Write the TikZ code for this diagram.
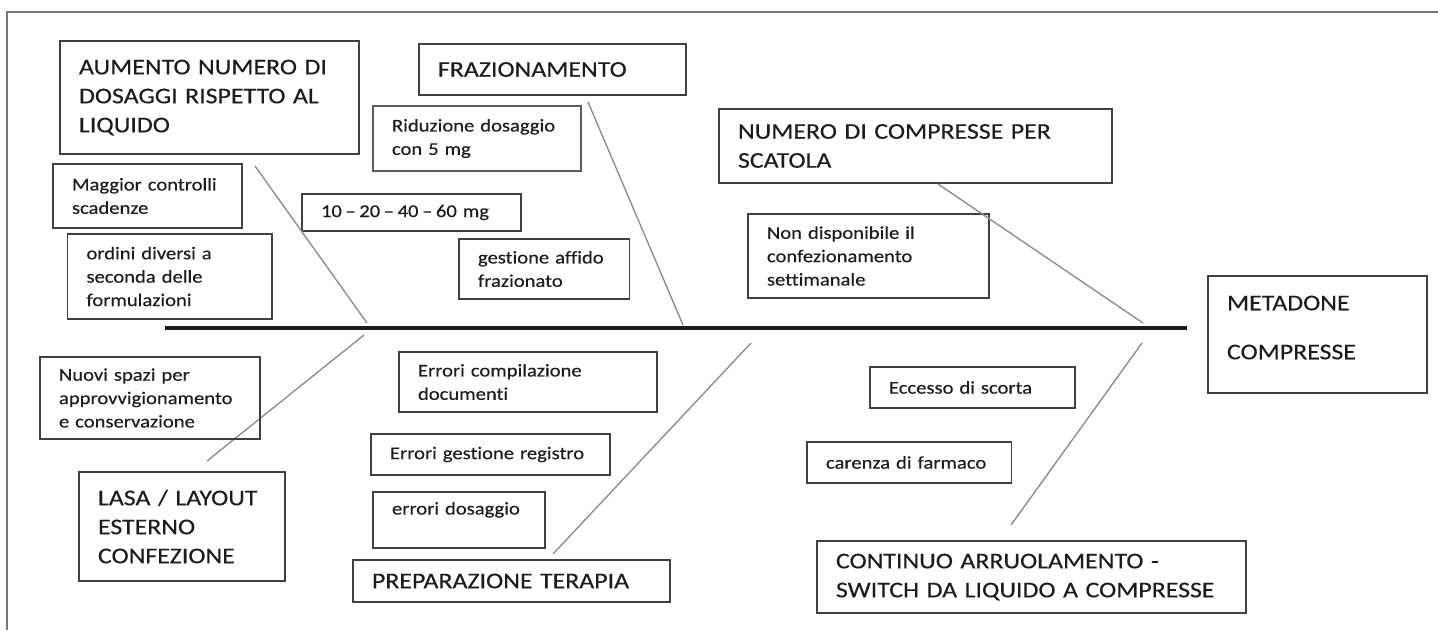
\documentclass[tikz,border=0pt]{standalone}
\usepackage{fontspec}
\setmainfont{Carlito}[FakeStretch=1.15, FakeBold=0.3, Ligatures=NoCommon]

\definecolor{framegray}{HTML}{767676}
\definecolor{boxline}{HTML}{404040}
\definecolor{thickline}{HTML}{5C5C5C}
\definecolor{bonegray}{HTML}{8E8E8E}
\definecolor{inkgray}{HTML}{1C1C1C}

\begin{document}
\begin{tikzpicture}[x=0.02cm, y=-0.02cm,
  cat/.style={draw=boxline, line width=0.7pt, anchor=north west, align=left,
              inner xsep=0.38cm, inner ysep=0pt, outer sep=0pt, text=inkgray,
              font=\fontsize{12.8}{16.5}\selectfont},
  cause/.style={cat, font=\fontsize{10.2}{13.3}\selectfont},
  bone/.style={draw=bonegray, line width=0.8pt},
  spine/.style={draw=inkgray, line width=2.3pt}]

  \useasboundingbox (0,0) rectangle (1438,630);

  % page frame
  \draw[framegray, line width=1.1pt] (1438,12) -- (7,12) -- (7,630);

  % upper categories
  \node[cat, text width=5.22cm, minimum height=2.26cm] (aumento) at (60,41)
        {AUMENTO NUMERO DI\\DOSAGGI RISPETTO AL\\LIQUIDO};
  \node[cat, text width=4.58cm, minimum height=1.02cm] (fraz) at (419,44)
        {FRAZIONAMENTO};
  \node[cat, text width=7.10cm, minimum height=1.48cm] (numero) at (719,109)
        {NUMERO DI COMPRESSE PER\\SCATOLA};

  % upper causes
  \node[cause, draw=thickline, line width=1.6pt, text width=3.40cm, minimum height=1.30cm]
        (riduz) at (373,106) {Riduzione dosaggio\\con 5 mg};
  \node[cause, text width=3.02cm, minimum height=1.28cm] (maggior) at (53,164)
        {Maggior controlli\\scadenze};
  \node[cause, text width=3.62cm, minimum height=0.74cm] (dosi) at (302,194)
        {10\hspace{0.2em}–\hspace{0.2em}20\hspace{0.2em}–\hspace{0.2em}40\hspace{0.2em}–\hspace{0.2em}60 mg};
  \node[cause, text width=3.33cm, minimum height=1.70cm] (ordini) at (67.5,234)
        {ordini diversi a\\seconda delle\\formulazioni};
  \node[cause, text width=2.65cm, minimum height=1.20cm] (affido) at (459,239)
        {gestione affido\\frazionato};
  \node[cause, text width=4.06cm, minimum height=1.68cm] (settim) at (748,214)
        {Non disponibile il\\confezionamento\\settimanale};

  % effect
  \node[cat, text width=3.62cm, minimum height=2.34cm] (metadone) at (1208,276)
        {METADONE\\[11.4pt]COMPRESSE\\[-8.5pt]\mbox{}};

  % spine
  \coordinate (tail) at (165,328);
  \coordinate (head) at (1187,328);
  \draw[spine] (tail) -- (head);

  % upper bones
  \coordinate (b1) at (255,166);  \coordinate (j1) at (367,323);
  \coordinate (b2) at (588,102);  \coordinate (j2) at (683,325);
  \coordinate (b3) at (938,184);  \coordinate (j3) at (1143,323);
  \draw[bone] (b1) -- (j1);
  \draw[bone] (b2) -- (j2);
  \draw[bone] (b3) -- (j3);

  % lower bones
  \coordinate (j4) at (364,335);  \coordinate (b4) at (207,461);
  \coordinate (j5) at (751,343);  \coordinate (b5) at (553,554);
  \coordinate (j6) at (1142,343); \coordinate (b6) at (1011,525);
  \draw[bone] (j4) -- (b4);
  \draw[bone] (j5) -- (b5);
  \draw[bone] (j6) -- (b6);

  % lower causes
  \node[cause, text width=3.64cm, minimum height=1.64cm] (nuovi) at (40,357)
        {Nuovi spazi per\\approvvigionamento\\e conservazione};
  \node[cause, text width=4.40cm, minimum height=1.20cm] (compil) at (399,352)
        {Errori compilazione\\documenti};
  \node[cause, text width=4.02cm, minimum height=0.82cm] (registro) at (371,434)
        {Errori gestione registro};
  \node[cause, text width=2.68cm, minimum height=1.12cm] (dosaggio) at (373,492)
        {errori dosaggio\\\mbox{}};
  \node[cause, text width=3.34cm, minimum height=0.82cm] (scorta) at (870,367)
        {Eccesso di scorta};
  \node[cause, text width=3.33cm, minimum height=0.82cm] (carenza) at (807,442)
        {carenza di farmaco};

  % lower categories
  \node[cat, text width=3.36cm, minimum height=2.18cm] (lasa) at (79,472)
        {LASA / LAYOUT\\ESTERNO\\CONFEZIONE};
  \node[cat, text width=5.58cm, minimum height=0.84cm] (terapia) at (353,560)
        {PREPARAZIONE TERAPIA};
  \node[cat, text width=7.82cm, minimum height=1.44cm] (continuo) at (817,541)
        {CONTINUO ARRUOLAMENTO -\\SWITCH DA LIQUIDO A COMPRESSE};

\end{tikzpicture}
\end{document}
